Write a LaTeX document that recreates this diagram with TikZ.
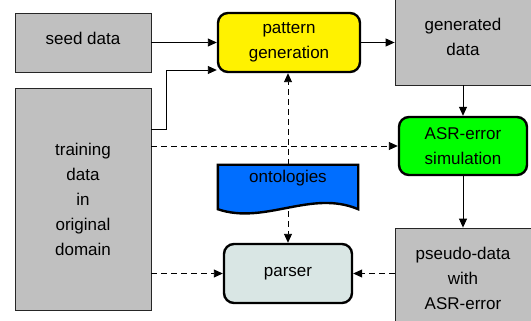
\documentclass[tikz,border=0pt]{standalone}
\usepackage{fontspec}
\setmainfont{Liberation Sans}
\usepackage{tikz}
\usetikzlibrary{arrows.meta}

\definecolor{boxgray}{RGB}{192,192,192}
\definecolor{parsergray}{RGB}{217,230,228}
\definecolor{ontoblue}{RGB}{0,110,255}

\tikzset{
    txt/.style={align=center, font=\fontsize{17}{25}\selectfont, inner sep=0pt},
    databox/.style={txt, draw=black!85, line width=0.8pt, fill=boxgray},
    procbox/.style={txt, draw=black, line width=2.4pt, rounded corners=10pt},
    arr/.style={-{Triangle[length=9pt,width=8pt]}, line width=0.9pt},
    darr/.style={arr, dash pattern=on 6pt off 4pt}
}

\begin{document}
\begin{tikzpicture}[x=1pt,y=-1pt]
    \useasboundingbox (0,0) rectangle (531,321);

    % Data boxes on the left
    \node[databox, minimum width=136pt, minimum height=59pt, text depth=8pt] (seed) at (83,42.5) {seed data};
    \node[databox, minimum width=136pt, minimum height=222pt] (training) at (83,199)
        {training\\data\\in\\original\\domain};

    % Middle column
    \node[procbox, fill=yellow, minimum width=142pt, minimum height=59pt] (pattern) at (289,42.5)
        {pattern\\generation};
    \node[procbox, fill=parsergray, minimum width=128pt, minimum height=59pt] (parser) at (288,273.5)
        {parser};

    % Ontologies (document shape)
    \node[minimum width=140pt, minimum height=44pt, inner sep=0pt] (onto) at (288,187) {};
    \fill[ontoblue] (onto.north west) -- (onto.north east) -- (onto.south east)
        .. controls ([shift={(-47,-20)}]onto.south east) and ([shift={(47,16)}]onto.south west)
        .. (onto.south west) -- cycle;
    \draw[line width=2.4pt] (onto.north west) -- (onto.north east) -- (onto.south east)
        .. controls ([shift={(-47,-20)}]onto.south east) and ([shift={(47,16)}]onto.south west)
        .. (onto.south west) -- cycle;
    \node[txt] (ontotext) at ([yshift=9pt]onto.center) {ontologies};

    % Right column
    \node[databox, minimum width=136pt, minimum height=96pt] (gendata) at (463,37) {generated\\data};
    \node[procbox, fill=green, minimum width=128pt, minimum height=58pt] (asr) at (463,146)
        {ASR-error\\simulation};
    \node[databox, minimum width=136pt, minimum height=100pt] (pseudo) at (463,278)
        {pseudo-data\\with\\ASR-error};

    % Solid arrows
    \draw[arr] (seed.east) -- (seed.east -| pattern.west);
    \draw[arr] ([yshift=-42pt]training.north east) -- ++(15,0) |- ([yshift=-27.5pt]pattern.west);
    \draw[arr] (pattern.east) -- (pattern.east -| gendata.west);
    \draw[arr] (gendata.south) -- (asr.north);
    \draw[arr] (asr.south) -- (pseudo.north);

    % Dashed arrows
    \draw[darr] (training.east |- asr.west) -- (asr.west);
    \draw[darr] (training.east |- parser.west) -- (parser.west);
    \draw[darr] (pseudo.west |- parser.east) -- (parser.east);
    \draw[darr] (onto.north) -- (onto.north |- pattern.south);
    \draw[darr] ([yshift=-2pt]onto.south) -- (onto.south |- parser.north);
\end{tikzpicture}
\end{document}
